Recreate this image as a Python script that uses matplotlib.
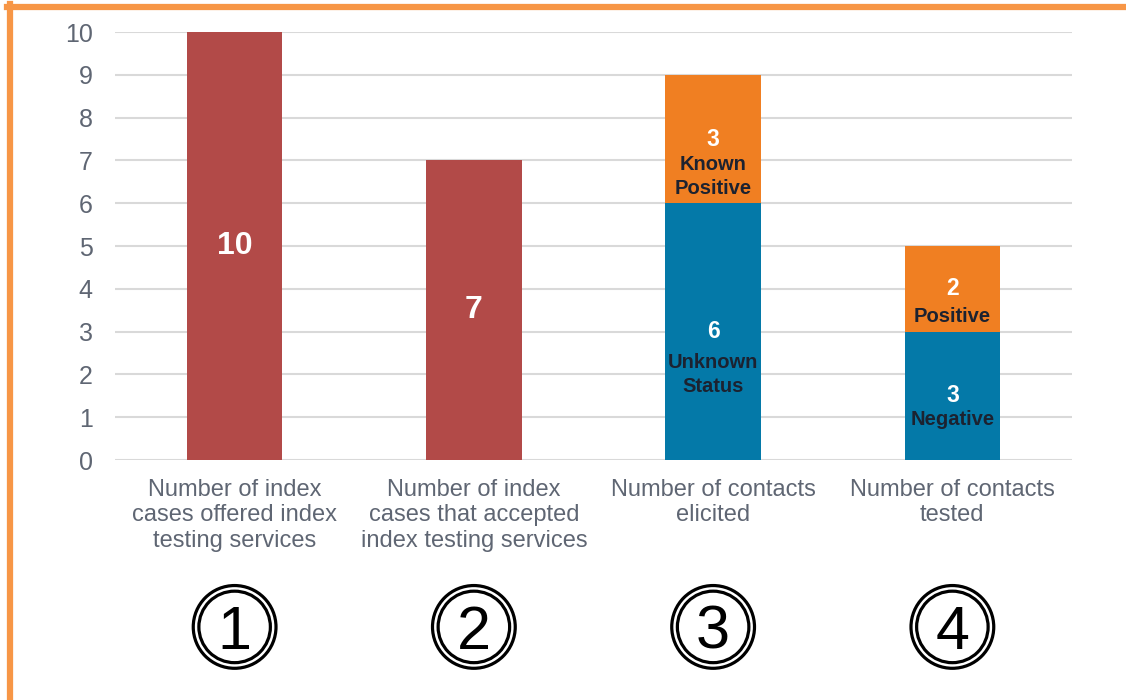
import matplotlib.pyplot as plt
import matplotlib.transforms as mtransforms
from matplotlib.lines import Line2D

categories = [
    "Number of index\ncases offered index\ntesting services",
    "Number of index\ncases that accepted\nindex testing services",
    "Number of contacts\nelicited",
    "Number of contacts\ntested",
]
step_labels = ["1", "2", "3", "4"]

# single bars (steps 1-2)
single_values = [10, 7]
# stacked bars (steps 3-4): bottom (blue) and top (orange) segments
stack_bottom = [6, 3]
stack_top = [3, 2]
stack_bottom_labels = [["Unknown", "Status"], ["Negative"]]
stack_top_labels = [["Known", "Positive"], ["Positive"]]

RED = "#B24A48"
BLUE = "#0479A8"
ORANGE = "#F07F22"
BORDER = "#F79646"
TICK = "#5f6673"
DARK = "#1c2230"
PX = 72 / 100  # points per pixel

plt.rcParams.update({"font.family": ["Liberation Sans", "DejaVu Sans"]})

fig = plt.figure(figsize=(11.26, 7.0), dpi=100)
ax = fig.add_axes([115 / 1126, 240 / 700, 957 / 1126, 428 / 700])

x = list(range(len(categories)))
width = 0.4

ax.bar(x[:2], single_values, width=width, color=RED, zorder=3)
ax.bar(x[2:], stack_bottom, width=width, color=BLUE, zorder=3)
ax.bar(x[2:], stack_top, width=width, bottom=stack_bottom, color=ORANGE, zorder=3)

# labels on single bars
for xi, v in zip(x[:2], single_values):
    ax.text(xi, v / 2, str(v), ha="center", va="center", color="white",
            fontsize=23, fontweight="bold", zorder=4)


def seg_label(xi, center, value, lines, gap):
    ax.annotate(str(value), (xi, center), xytext=(0, 0), textcoords="offset points",
                ha="center", va="center", color="white", fontsize=16.5,
                fontweight="bold", zorder=4)
    for k, line in enumerate(lines):
        ax.annotate(line, (xi, center), xytext=(0, -(gap + 24 * k) * PX),
                    textcoords="offset points", ha="center", va="center",
                    color=DARK, fontsize=14.5, fontweight="bold", zorder=4)


bottom_gaps = [31, 24]
top_gaps = [26, 28]
for i, xi in enumerate(x[2:]):
    b, t = stack_bottom[i], stack_top[i]
    seg_label(xi, b / 2, b, stack_bottom_labels[i], bottom_gaps[i])
    seg_label(xi, b + t / 2, t, stack_top_labels[i], top_gaps[i])

ax.set_xlim(-0.5, 3.5)
ax.set_ylim(0, 10)
ax.set_yticks(range(0, 11))
ax.yaxis.grid(True, color="#d9d9d9", linewidth=1.5, zorder=0)
ax.set_axisbelow(True)
for s in ax.spines.values():
    s.set_visible(False)
ax.tick_params(axis="y", length=0, pad=16, labelsize=18, labelcolor=TICK)
ax.set_xticks(x)
ax.set_xticklabels(categories, fontsize=17, color=TICK, linespacing=1.2)
ax.tick_params(axis="x", length=0, pad=13.5)

# circled step numbers under each category
trans = mtransforms.blended_transform_factory(ax.transData, ax.transAxes)
yc = -0.39
for xi, lab in zip(x, step_labels):
    ax.scatter([xi], [yc], s=3550, marker="o", facecolors="none", edgecolors="black",
               linewidths=2.3, transform=trans, clip_on=False)
    ax.scatter([xi], [yc], s=2650, marker="o", facecolors="none", edgecolors="black",
               linewidths=2.3, transform=trans, clip_on=False)
    ax.text(xi, yc, lab, transform=trans, ha="center", va="center_baseline",
            fontsize=44, color="black")

# orange frame on left and top
fig.add_artist(Line2D([10 / 1126, 10 / 1126], [0, 696 / 700], color=BORDER,
                      linewidth=4.5, transform=fig.transFigure))
fig.add_artist(Line2D([7 / 1126, 1], [693 / 700, 693 / 700], color=BORDER,
                      linewidth=4.5, transform=fig.transFigure))

fig.savefig("out.png", dpi=100, facecolor="white")
